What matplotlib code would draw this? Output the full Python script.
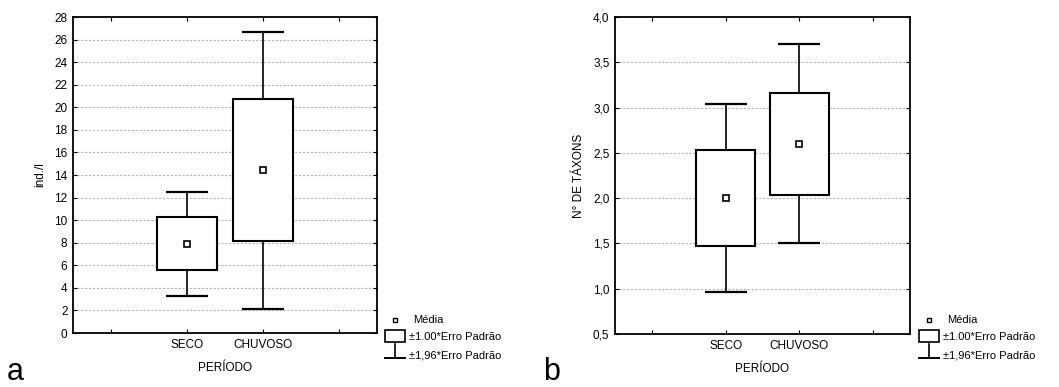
import matplotlib
matplotlib.use("Agg")
import matplotlib.pyplot as plt
from matplotlib.lines import Line2D
from matplotlib.patches import Rectangle

plt.rcParams["font.family"] = ["Liberation Sans", "DejaVu Sans"]
plt.rcParams["font.size"] = 8.5

periods = ["SECO", "CHUVOSO"]

# ind./l per period: mean and standard error
dens_mean = [7.9, 14.43]
dens_se = [2.35, 6.26]

# number of taxa per period
taxa_mean = [2.0, 2.6]
taxa_se = [0.53, 0.56]

dens_ticks = list(range(0, 29, 2))
taxa_ticks = [0.5, 1.0, 1.5, 2.0, 2.5, 3.0, 3.5, 4.0]

W, H = 1059, 387
fig = plt.figure(figsize=(W / 100, H / 100), dpi=100)


def px_to_fig(x, y):
    return x / W, 1 - y / H


def draw_panel(rect, means, ses, yticks, ylim, ylabel, fmt):
    ax = fig.add_axes(rect)
    xs = [1, 2]
    whisk = [1.96 * s for s in ses]
    ax.errorbar(xs, means, yerr=whisk, fmt="none", ecolor="black",
                elinewidth=1.2, capsize=15, capthick=1.6, zorder=2)
    ax.bar(xs, [2 * s for s in ses], bottom=[m - s for m, s in zip(means, ses)],
           width=0.8, facecolor="white", edgecolor="black", linewidth=1.5, zorder=3)
    ax.plot(xs, means, ls="none", marker="s", ms=3.8, mfc="white", mec="black",
            mew=1.2, zorder=4)

    ax.set_xlim(-0.5, 3.5)
    ax.set_ylim(*ylim)
    ax.set_xticks([0, 1, 2, 3])
    ax.set_xticklabels([""] + periods + [""])
    ax.set_yticks(yticks)
    ax.set_yticklabels([fmt(v) for v in yticks])
    ax.tick_params(direction="in", length=3, width=0.8, top=True, right=True,
                   labelsize=8.5, pad=4)
    for v in yticks[1:-1]:
        ax.axhline(v, color="#b4b4b4", lw=0.8, ls=(0, (2, 1.5)), zorder=1)
    for sp in ax.spines.values():
        sp.set_linewidth(1.3)
    ax.set_ylabel(ylabel, fontsize=8.5, labelpad=6)
    ax.set_xlabel("PERÍODO", fontsize=8.5, labelpad=8)
    return ax


def draw_key(x0, y0):
    # mean marker
    mx, my = px_to_fig(x0 + 10, y0)
    fig.add_artist(Line2D([mx], [my], marker="s", ms=3.5, mfc="white",
                          mec="black", mew=1.0, ls="none"))
    tx, ty = px_to_fig(x0 + 28, y0)
    fig.text(tx, ty, "Média", fontsize=8, va="center")
    # box symbol
    bx, by = px_to_fig(x0, y0 + 22)
    bw = 20 / W
    bh = 12 / H
    fig.add_artist(Rectangle((bx, by), bw, bh, facecolor="white",
                             edgecolor="black", lw=1.2))
    tx, ty = px_to_fig(x0 + 24, y0 + 17)
    fig.text(tx, ty, "±1.00*Erro Padrão", fontsize=8, va="center")
    # whisker symbol
    x_l, y_t = px_to_fig(x0, y0 + 24)
    x_r, y_b = px_to_fig(x0 + 20, y0 + 38)
    x_m = (x_l + x_r) / 2
    fig.add_artist(Line2D([x_m, x_m], [y_t, y_b], color="black", lw=1.2))
    fig.add_artist(Line2D([x_l, x_r], [y_b, y_b], color="black", lw=1.4))
    tx, ty = px_to_fig(x0 + 24, y0 + 35)
    fig.text(tx, ty, "±1,96*Erro Padrão", fontsize=8, va="center")


draw_panel([73 / W, 1 - 333 / H, 304 / W, 316 / H], dens_mean, dens_se,
           dens_ticks, (0, 28), "ind./l", lambda v: f"{v:d}")
draw_panel([615 / W, 1 - 334 / H, 295 / W, 317 / H], taxa_mean, taxa_se,
           taxa_ticks, (0.5, 4.0), "N° DE TÁXONS",
           lambda v: f"{v:.1f}".replace(".", ","))

draw_key(385, 320)
draw_key(919, 320)

# panel letters along the bottom edge of the figure
fig.text(7 / W, 0.0, "a", fontsize=22, va="bottom")
fig.text(543 / W, 0.0, "b", fontsize=22, va="bottom")

fig.savefig("out.png", dpi=100, facecolor="white")
